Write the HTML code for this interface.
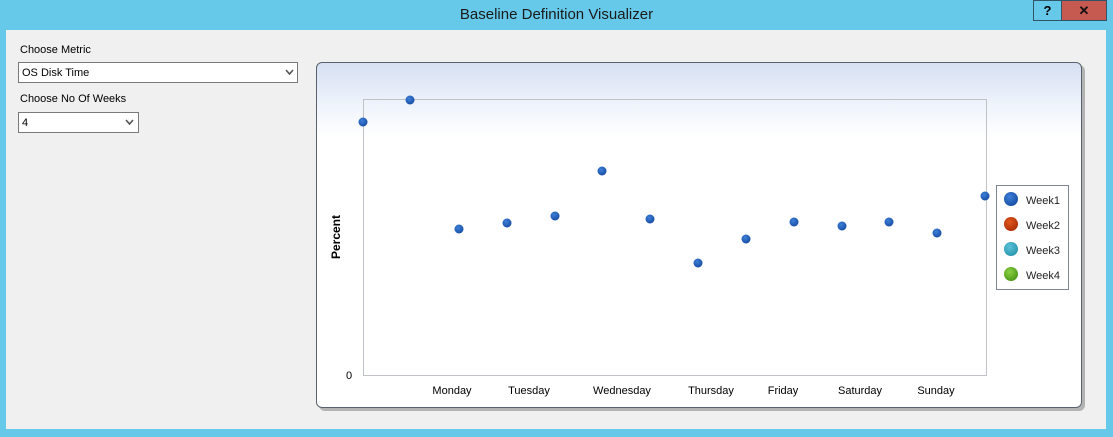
<!DOCTYPE html>
<html><head><meta charset="utf-8"><style>
*{margin:0;padding:0;box-sizing:border-box}
body{width:1113px;height:437px;background:#66c9ea;position:relative;overflow:hidden;font-family:"Liberation Sans",sans-serif;color:#000}
.abs{position:absolute}
#client{left:6px;top:30px;width:1100px;height:399px;background:#f0f0f0}
.title{left:0;top:6px;width:1113px;text-align:center;font-size:15px;color:#1a1a1a}
.lbl{font-size:11px;color:#000}
.combo{background:#fff;border:1px solid #7a7a7a;font-size:11px;padding:4px 0 0 3px}
#panel{left:316px;top:62px;width:766px;height:346px;border:1px solid #59626c;border-radius:6px;background:linear-gradient(#d6e0f2 0px,#eef3fb 40px,#fff 75px,#fff 100%);box-shadow:3px 3px 0 #b3b3b3}
</style></head><body>
<div class="abs title">Baseline Definition Visualizer</div>
<div class="abs" style="left:1033px;top:0;width:29px;height:21px;border:1px solid #2f5566;background:#66c9ea;text-align:center;font-weight:bold;font-size:13px;line-height:19px">?</div>
<div class="abs" style="left:1061px;top:0;width:46px;height:21px;border:1px solid #2f5566;background:#c75a50;text-align:center;font-weight:bold;font-size:13px;line-height:19px;color:#111">✕</div>
<div class="abs" id="client"></div>
<div class="abs lbl" style="left:20px;top:44px">Choose Metric</div>
<div class="abs combo" style="left:18px;top:62px;width:280px;height:21px">OS Disk Time</div>
<div class="abs lbl" style="left:20px;top:93px">Choose No Of Weeks</div>
<div class="abs combo" style="left:18px;top:112px;width:121px;height:21px">4</div>
<div class="abs" id="panel"></div>
<svg class="abs" style="left:0;top:0" width="1113" height="437" xmlns="http://www.w3.org/2000/svg">
<defs>
<radialGradient id="g" cx="40%" cy="35%" r="65%"><stop offset="0" stop-color="#3d7fd8"/><stop offset="1" stop-color="#1a4fa6"/></radialGradient>
<radialGradient id="r" cx="40%" cy="35%" r="65%"><stop offset="0" stop-color="#e0561e"/><stop offset="1" stop-color="#b03008"/></radialGradient>
<radialGradient id="c" cx="40%" cy="35%" r="65%"><stop offset="0" stop-color="#5cc2d8"/><stop offset="1" stop-color="#2a98b0"/></radialGradient>
<radialGradient id="gr" cx="40%" cy="35%" r="65%"><stop offset="0" stop-color="#8ad042"/><stop offset="1" stop-color="#4f9c1a"/></radialGradient>
</defs>
<path d="M286 70 L289.5 74 L293 70" fill="none" stroke="#555" stroke-width="1.6"/>
<path d="M126 120 L129.5 124 L133 120" fill="none" stroke="#555" stroke-width="1.6"/>
<rect x="363.5" y="99.5" width="623" height="276" fill="none" stroke="#bfc3c8" stroke-width="1"/>
<g fill="url(#g)">
<circle cx="363" cy="122" r="4.5"/>
<circle cx="410" cy="100" r="4.5"/>
<circle cx="459" cy="229" r="4.5"/>
<circle cx="507" cy="223" r="4.5"/>
<circle cx="555" cy="216" r="4.5"/>
<circle cx="602" cy="171" r="4.5"/>
<circle cx="650" cy="219" r="4.5"/>
<circle cx="698" cy="263" r="4.5"/>
<circle cx="746" cy="239" r="4.5"/>
<circle cx="794" cy="222" r="4.5"/>
<circle cx="842" cy="226" r="4.5"/>
<circle cx="889" cy="222" r="4.5"/>
<circle cx="937" cy="233" r="4.5"/>
<circle cx="985" cy="196" r="4.5"/>
</g>
<g font-family="Liberation Sans, sans-serif" font-size="11" fill="#000" text-anchor="middle">
<text x="349" y="379">0</text>
<text x="452" y="394">Monday</text>
<text x="529" y="394">Tuesday</text>
<text x="622" y="394">Wednesday</text>
<text x="711" y="394">Thursday</text>
<text x="783" y="394">Friday</text>
<text x="860" y="394">Saturday</text>
<text x="936" y="394">Sunday</text>
<text x="0" y="0" font-size="12" font-weight="bold" transform="translate(340,237) rotate(-90)">Percent</text>
</g>
<rect x="996.5" y="185.5" width="72" height="104" fill="#fff" stroke="#7d8590"/>
<circle cx="1011" cy="199" r="7" fill="url(#g)"/>
<circle cx="1011" cy="224" r="7" fill="url(#r)"/>
<circle cx="1011" cy="249" r="7" fill="url(#c)"/>
<circle cx="1011" cy="274" r="7" fill="url(#gr)"/>
<g font-family="Liberation Sans, sans-serif" font-size="11" fill="#222">
<text x="1026" y="204">Week1</text>
<text x="1026" y="229">Week2</text>
<text x="1026" y="254">Week3</text>
<text x="1026" y="279">Week4</text>
</g>
</svg>
</body></html>
